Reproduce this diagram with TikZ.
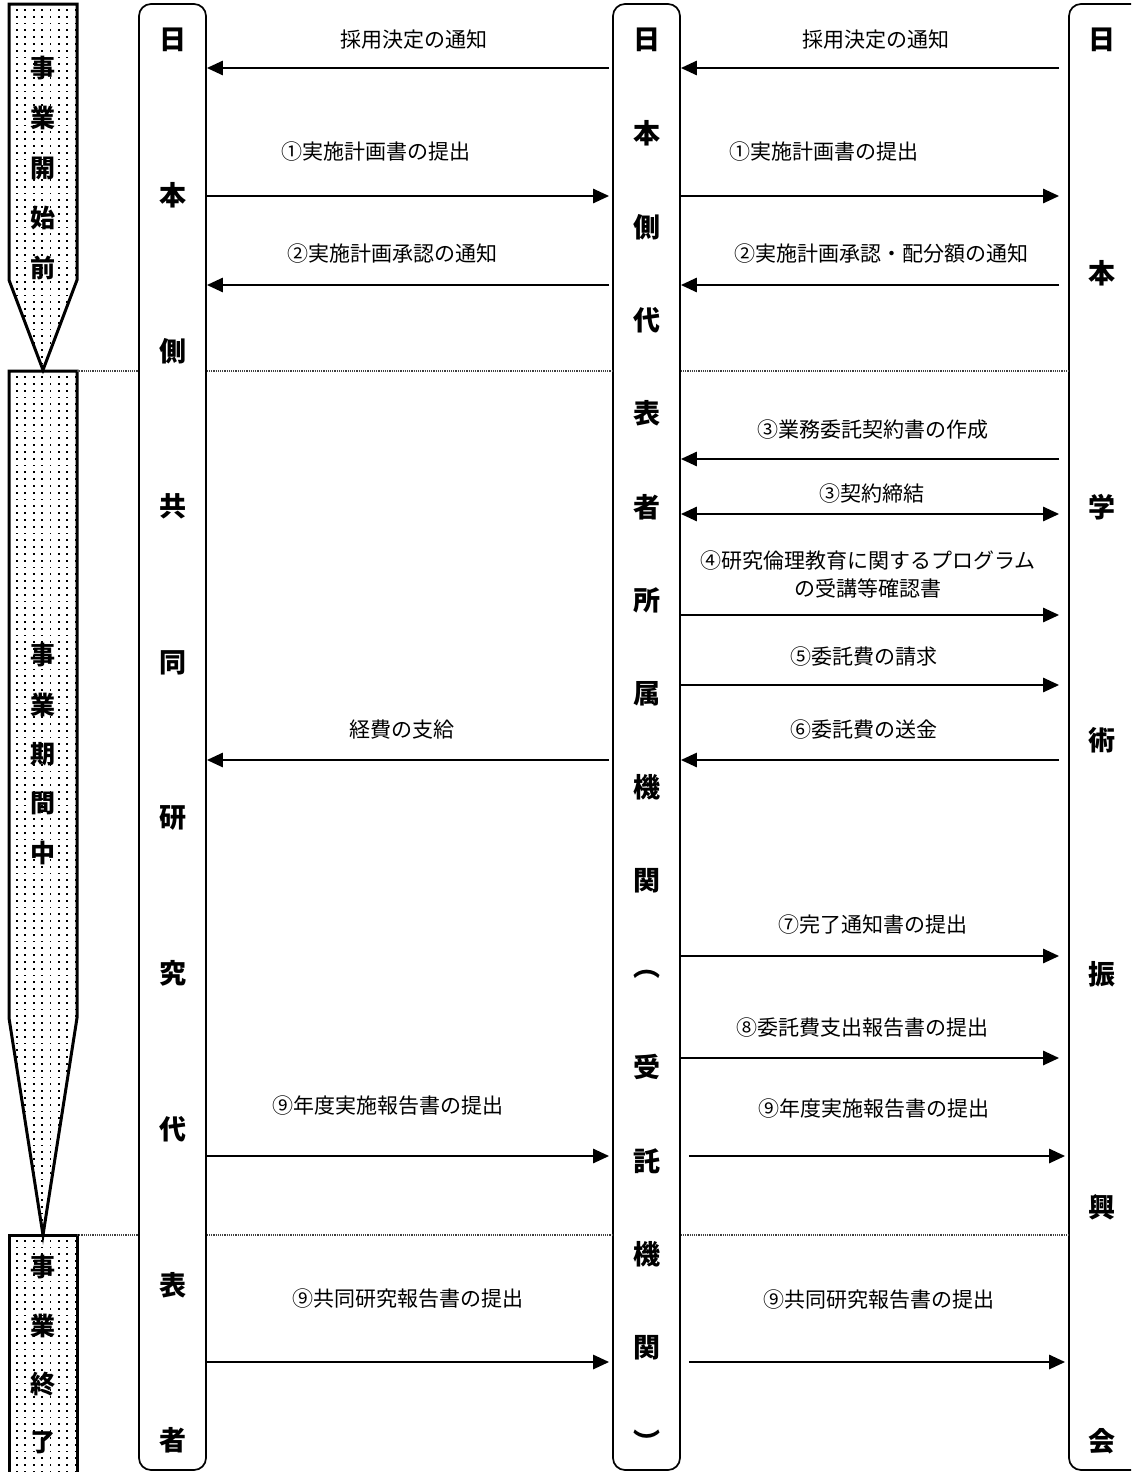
\documentclass[tikz,border=0pt]{standalone}
\usepackage{fontspec}
\setmainfont{Noto Sans CJK JP}
\usetikzlibrary{arrows.meta,patterns}
\pgfdeclarepatternformonly{sdots}{\pgfqpoint{-0.6pt}{-0.6pt}}{\pgfqpoint{0.6pt}{0.6pt}}{\pgfqpoint{4.2pt}{3.4pt}}{\pgfpathrectangle{\pgfqpoint{-0.45pt}{-0.45pt}}{\pgfqpoint{0.9pt}{0.9pt}}\pgfusepath{fill}}
\begin{document}
\begin{tikzpicture}[x=0.5pt,y=-0.5pt,
  col/.style={draw, line width=0.85pt, rounded corners=6pt, fill=white, minimum width=33.5pt, minimum height=733pt, inner sep=0pt},
  vch/.style={font=\fontsize{13.5}{14}\selectfont\bfseries, inner sep=0pt},
  pch/.style={font=\fontsize{12.5}{13}\selectfont\bfseries, inner sep=0pt},
  lab/.style={font=\fontsize{10.5}{14}\selectfont, inner sep=0pt, align=center},
  arr/.style={line width=1.35pt, -{Triangle[length=8pt,width=7pt]}},
  darr/.style={line width=1.35pt, {Triangle[length=8pt,width=7pt]}-{Triangle[length=8pt,width=7pt]}},
  sep/.style={line width=0.7pt, dash pattern=on 0.6pt off 0.5pt, black!75},
  phase/.style={draw, line width=1.5pt, pattern=sdots, line join=miter}]
\useasboundingbox (0,0) rectangle (1131,1472);
\clip (0,0) rectangle (1131,1472);
% phase arrows
\draw[phase] (9,4) -- (77,4) -- (77,280) -- (43,370) -- (9,280) -- cycle;
\draw[phase] (9,371) -- (77,371) -- (77,1018) -- (43,1235) -- (9,1018) -- cycle;
\draw[phase] (9,1490) -- (9,1235) -- (77,1235) -- (77,1490);
\foreach \c [count=\i] in {事,業,開,始,前} \node[pch] (pa\i) at (43,{68+50*(\i-1)}) {\c};
\foreach \c [count=\i] in {事,業,期,間,中} \node[pch] (pb\i) at (43,{655+49.6*(\i-1)}) {\c};
\foreach \c [count=\i] in {事,業,終,了} \node[pch] (pc\i) at (43,{1267+58.7*(\i-1)}) {\c};
% columns
\node[col] (L) at (172.5,737) {};
\node[col] (M) at (646.5,737) {};
\node[col, minimum width=40pt] (R) at (1109,737) {};
\foreach \c [count=\i] in {日,本,側,共,同,研,究,代,表,者} \node[vch] (l\i) at (172.5,{40+155.6*(\i-1)}) {\c};
\foreach \c [count=\i] in {日,本,側,代,表,者,所,属,機,関,︵,受,託,機,関,︶} \node[vch] (m\i) at (646.5,{40+93.4*(\i-1)}) {\c};
\foreach \c [count=\i] in {日,本,学,術,振,興,会} \node[vch] (r\i) at (1102,{40+233.5*(\i-1)}) {\c};
% separators
\coordinate (s1) at (77,371);
\coordinate (s2) at (77,1235);
\draw[sep] (s1) -- (L.west|-s1) (L.east|-s1) -- (M.west|-s1) (M.east|-s1) -- (R.west|-s1);
\draw[sep] (s2) -- (L.west|-s2) (L.east|-s2) -- (M.west|-s2) (M.east|-s2) -- (R.west|-s2);
% labels
\node[lab] (ta1) at (414,40) {採用決定の通知};
\node[lab] (tb1) at (876,40) {採用決定の通知};
\node[lab] (ta2) at (376,152) {①実施計画書の提出};
\node[lab] (tb2) at (824,152) {①実施計画書の提出};
\node[lab] (ta3) at (392,254) {②実施計画承認の通知};
\node[lab] (tb3) at (881,254) {②実施計画承認・配分額の通知};
\node[lab] (tb4) at (873,430) {③業務委託契約書の作成};
\node[lab] (tb5) at (872,494) {③契約締結};
\node[lab] (tb6) at (868,574) {④研究倫理教育に関するプログラム\\の受講等確認書};
\node[lab] (tb7) at (864,657) {⑤委託費の請求};
\node[lab] (ta8) at (402,730) {経費の支給};
\node[lab] (tb8) at (864,730) {⑥委託費の送金};
\node[lab] (tb9) at (873,925) {⑦完了通知書の提出};
\node[lab] (tb10) at (862,1028) {⑧委託費支出報告書の提出};
\node[lab] (ta11) at (388,1106) {⑨年度実施報告書の提出};
\node[lab] (tb11) at (874,1109) {⑨年度実施報告書の提出};
\node[lab] (ta12) at (408,1299) {⑨共同研究報告書の提出};
\node[lab] (tb12) at (879,1300) {⑨共同研究報告書の提出};
% arrows left side
\draw[arr, shorten <=1.5pt] (M.west|-0,68) -- (L.east|-0,68);
\draw[arr, shorten >=1.5pt] (L.east|-0,196) -- (M.west|-0,196);
\draw[arr, shorten <=1.5pt] (M.west|-0,285) -- (L.east|-0,285);
\draw[arr, shorten <=1.5pt] (M.west|-0,760) -- (L.east|-0,760);
\draw[arr, shorten >=1.5pt] (L.east|-0,1156) -- (M.west|-0,1156);
\draw[arr, shorten >=1.5pt] (L.east|-0,1362) -- (M.west|-0,1362);
% arrows right side
\draw[arr, shorten <=4.5pt] (R.west|-0,68) -- (M.east|-0,68);
\draw[arr, shorten >=4.5pt] (M.east|-0,196) -- (R.west|-0,196);
\draw[arr, shorten <=4.5pt] (R.west|-0,285) -- (M.east|-0,285);
\draw[arr, shorten <=4.5pt] (R.west|-0,459) -- (M.east|-0,459);
\draw[darr, shorten >=4.5pt] (M.east|-0,514) -- (R.west|-0,514);
\draw[arr, shorten >=4.5pt] (M.east|-0,615) -- (R.west|-0,615);
\draw[arr, shorten >=4.5pt] (M.east|-0,685) -- (R.west|-0,685);
\draw[arr, shorten <=4.5pt] (R.west|-0,760) -- (M.east|-0,760);
\draw[arr, shorten >=4.5pt] (M.east|-0,956) -- (R.west|-0,956);
\draw[arr, shorten >=4.5pt] (M.east|-0,1058) -- (R.west|-0,1058);
\draw[arr, shorten <=4pt, shorten >=1.5pt] (M.east|-0,1156) -- (R.west|-0,1156);
\draw[arr, shorten <=4pt, shorten >=1.5pt] (M.east|-0,1362) -- (R.west|-0,1362);
\end{tikzpicture}
\end{document}
